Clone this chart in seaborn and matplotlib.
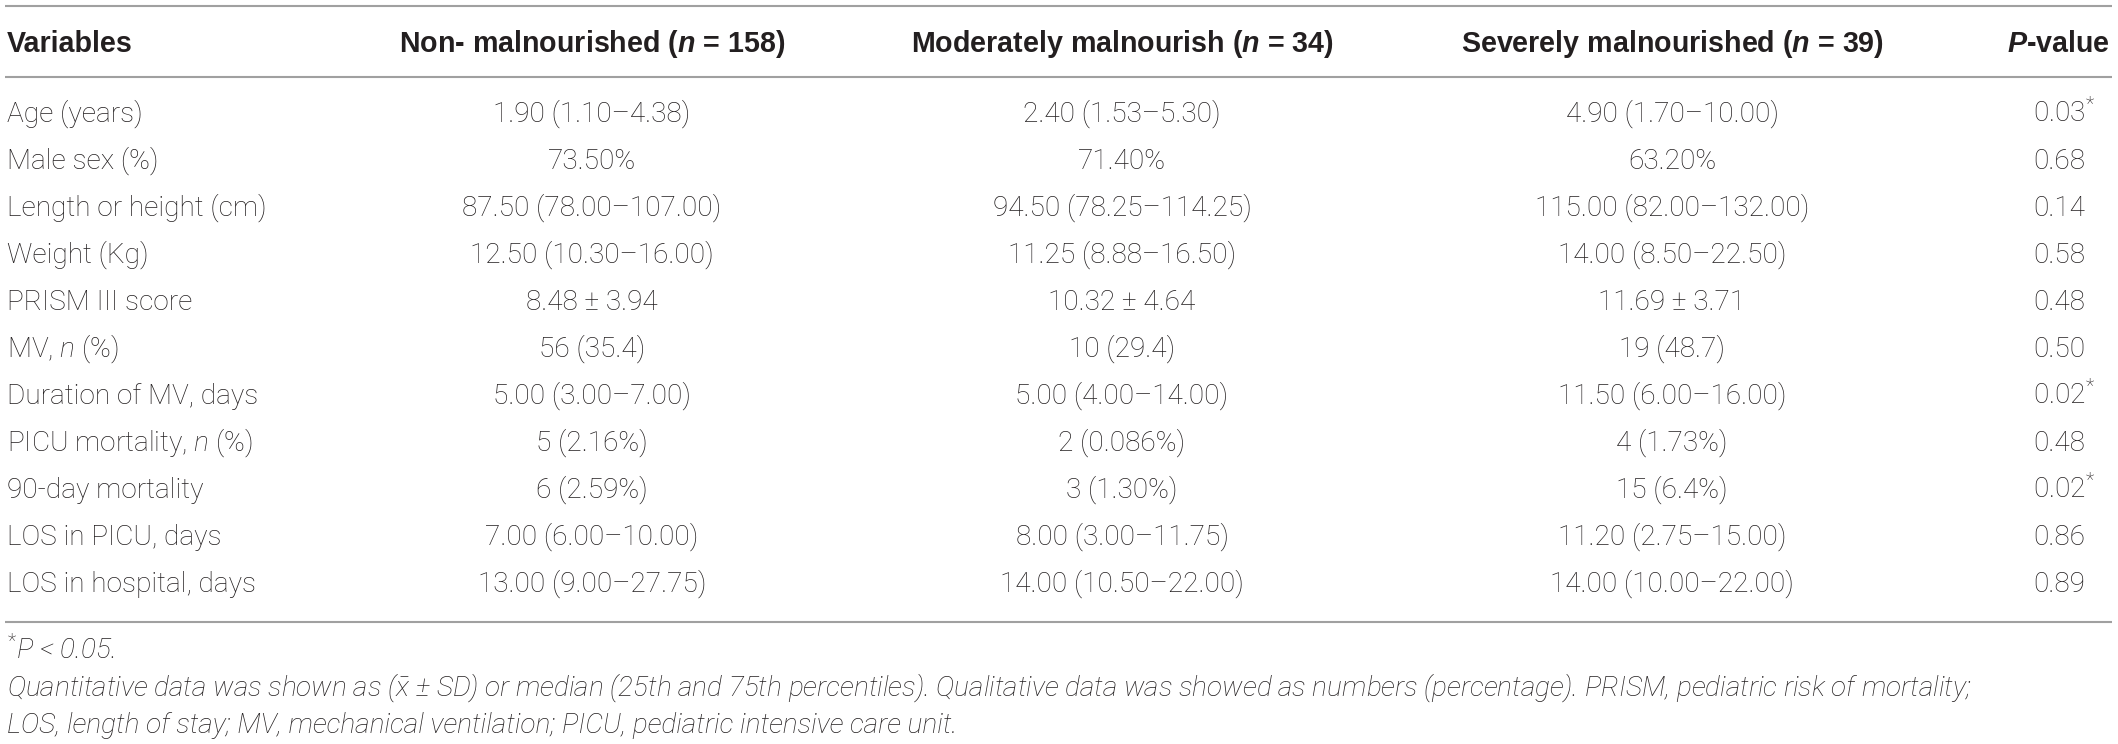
import matplotlib
matplotlib.use("Agg")
import matplotlib.pyplot as plt
import seaborn as sns
import pandas as pd
from matplotlib import font_manager

# --- table content ---
variables = [
    "Age (years)",
    "Male sex (%)",
    "Length or height (cm)",
    "Weight (Kg)",
    "PRISM III score",
    r"MV, $\mathit{n}$ (%)",
    "Duration of MV, days",
    r"PICU mortality, $\mathit{n}$ (%)",
    "90-day mortality",
    "LOS in PICU, days",
    "LOS in hospital, days",
]
non_malnourished = [
    "1.90 (1.10–4.38)", "73.50%", "87.50 (78.00–107.00)", "12.50 (10.30–16.00)",
    "8.48 ± 3.94", "56 (35.4)", "5.00 (3.00–7.00)", "5 (2.16%)", "6 (2.59%)",
    "7.00 (6.00–10.00)", "13.00 (9.00–27.75)",
]
moderately_malnourished = [
    "2.40 (1.53–5.30)", "71.40%", "94.50 (78.25–114.25)", "11.25 (8.88–16.50)",
    "10.32 ± 4.64", "10 (29.4)", "5.00 (4.00–14.00)", "2 (0.086%)", "3 (1.30%)",
    "8.00 (3.00–11.75)", "14.00 (10.50–22.00)",
]
severely_malnourished = [
    "4.90 (1.70–10.00)", "63.20%", "115.00 (82.00–132.00)", "14.00 (8.50–22.50)",
    "11.69 ± 3.71", "19 (48.7)", "11.50 (6.00–16.00)", "4 (1.73%)", "15 (6.4%)",
    "11.20 (2.75–15.00)", "14.00 (10.00–22.00)",
]
p_values = ["0.03*", "0.68", "0.14", "0.58", "0.48", "0.50",
            "0.02*", "0.48", "0.02*", "0.86", "0.89"]

headers = [
    "Variables",
    r"Non- malnourished ($\mathbfit{n}$ = 158)",
    r"Moderately malnourish ($\mathbfit{n}$ = 34)",
    r"Severely malnourished ($\mathbfit{n}$ = 39)",
    r"$\mathbfit{P}$-value",
]
footnotes = [
    r"${}^{*}$P < 0.05.",
    r"Quantitative data was shown as ($\bar{\mathit{x}}$ ± SD) or median (25th and 75th percentiles). "
    r"Qualitative data was showed as numbers (percentage). PRISM, pediatric risk of mortality;",
    "LOS, length of stay; MV, mechanical ventilation; PICU, pediatric intensive care unit.",
]

df = pd.DataFrame({
    "variable": variables,
    "non": non_malnourished,
    "moderate": moderately_malnourished,
    "severe": severely_malnourished,
    "p": p_values,
})

# --- style ---
sns.set_theme(style="white")
names = {f.name for f in font_manager.fontManager.ttflist}
family = "Roboto" if "Roboto" in names else "Liberation Sans"
head_family = "Liberation Sans" if "Liberation Sans" in names else family
plt.rcParams["font.family"] = [family, "DejaVu Sans"]
plt.rcParams["mathtext.fontset"] = "custom"
plt.rcParams["mathtext.default"] = "rm"
plt.rcParams["mathtext.rm"] = f"{family}:light"
plt.rcParams["mathtext.it"] = f"{family}:italic:light"
plt.rcParams["mathtext.bf"] = f"{head_family}:bold"
plt.rcParams["mathtext.bfit"] = f"{head_family}:italic:bold"

TEXT = "#231f20"
RULE = "#a0a0a0"
FS = 20.2          # ~28 px at 100 dpi
HFS = 20.6
W, H = 2118, 744

fig = plt.figure(figsize=(W / 100, H / 100), dpi=100)
ax = fig.add_axes([0, 0, 1, 1])
ax.set_xlim(0, W)
ax.set_ylim(H, 0)
ax.axis("off")

left_x = 7
col_x = {"non": 592, "moderate": 1122, "severe": 1672}
p_x = 2033
header_y = 51.7
row_y0, row_step = 121.7, 47.0

# rules
ax.hlines([5.5, 77, 622], 5, 2112, color=RULE, lw=1.5)

# header
head_kw = dict(va="baseline", fontsize=HFS, fontweight="bold",
               family=[head_family, "DejaVu Sans"], color=TEXT)
ax.text(left_x, header_y, headers[0], ha="left", **head_kw)
for key, label in zip(["non", "moderate", "severe"], headers[1:4]):
    ax.text(col_x[key], header_y, label, ha="center", **head_kw)
ax.text(2110, header_y, headers[4], ha="right", **head_kw)

# body
for i, row in df.iterrows():
    y = row_y0 + row_step * i
    ax.text(left_x, y, row["variable"], ha="left", va="baseline",
            fontsize=FS, fontweight="light", color=TEXT)
    for key in ["non", "moderate", "severe"]:
        ax.text(col_x[key], y, row[key], ha="center", va="baseline",
                fontsize=FS, fontweight="light", color=TEXT)
    p = row["p"].replace("*", r"${}^{*}$")
    ax.text(p_x, y, p, ha="left", va="baseline",
            fontsize=FS, fontweight="light", color=TEXT)

# footnotes
for j, note in enumerate(footnotes):
    ax.text(left_x, 659 + 37 * j, note, ha="left", va="baseline",
            fontsize=FS, fontweight="light", fontstyle="italic", color=TEXT)

fig.savefig("out.png", dpi=100, facecolor="white")
